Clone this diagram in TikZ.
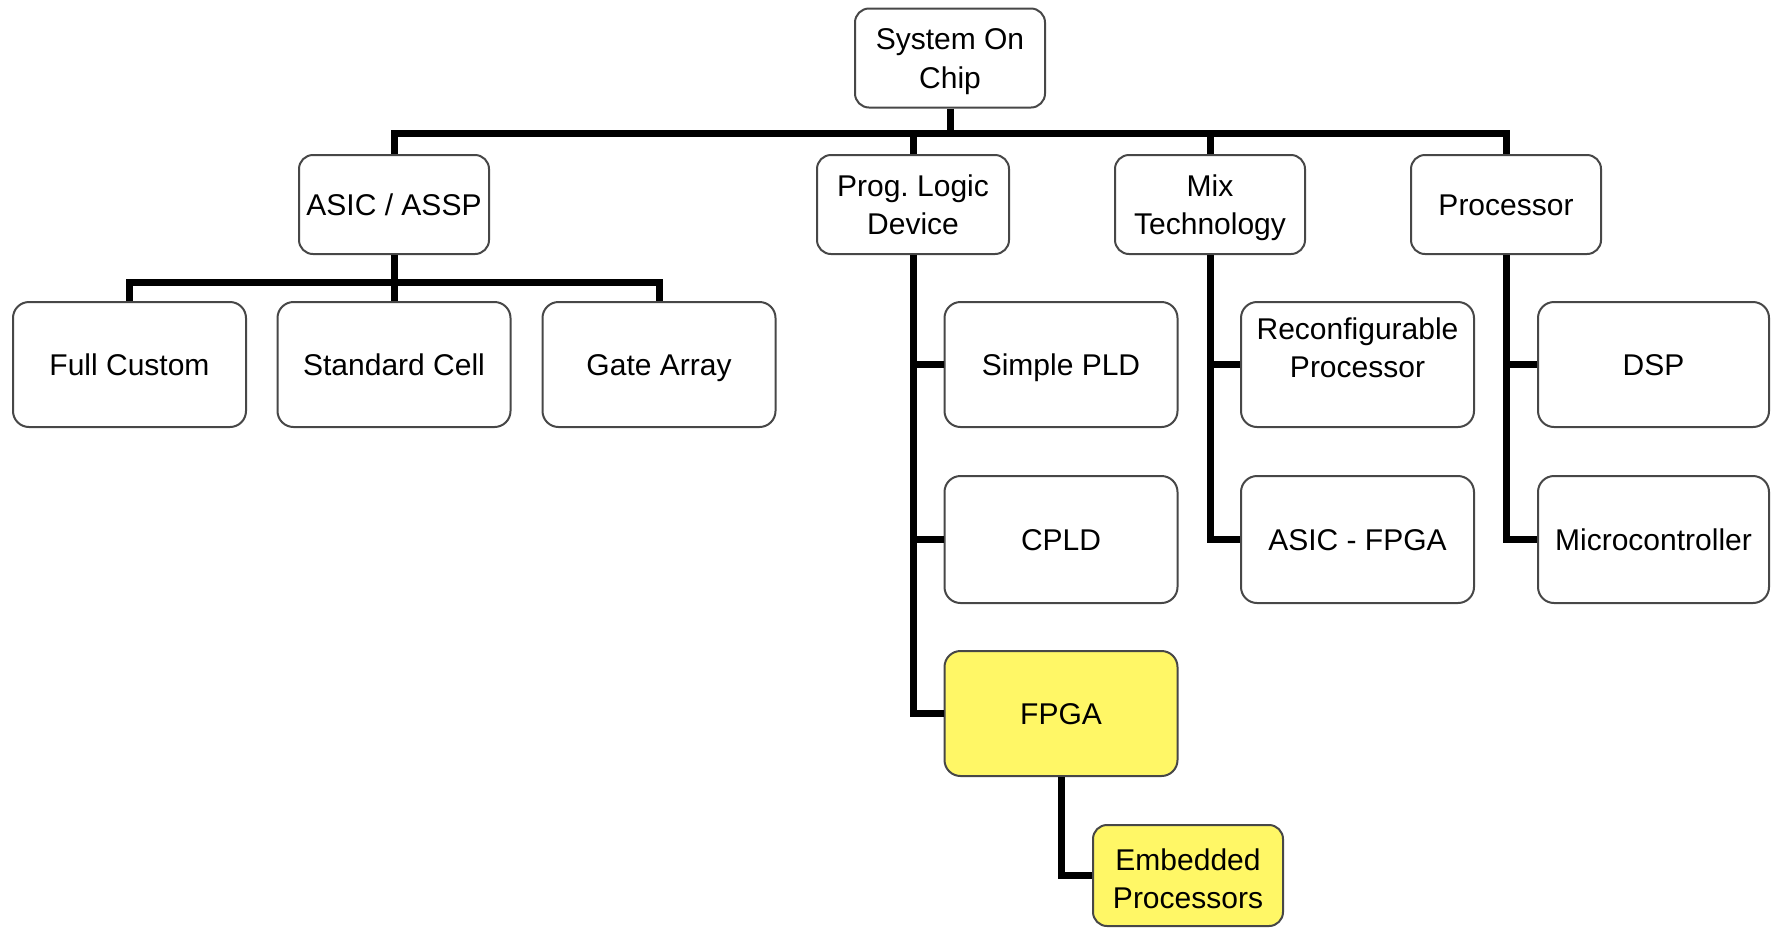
\documentclass[tikz,border=0pt]{standalone}
\usepackage{fontspec}
\setmainfont{Liberation Sans}
\frenchspacing
\begin{document}
\begin{tikzpicture}[x=0.5pt,y=-0.5pt,
  box/.style={draw=black!72, line width=1pt, rounded corners=8pt, fill=white,
    align=center, inner sep=0pt, font=\fontsize{15}{19.25}\selectfont,
    text height=10.75pt, text depth=0pt},
  twoline/.style={text height=30pt, text depth=0pt},
  headbox/.style={box, minimum width=95pt, minimum height=49.5pt, rounded corners=7pt},
  leafbox/.style={box, minimum width=116.5pt, minimum height=62.5pt},
  hilite/.style={fill=yellow!60!white},
  conn/.style={line width=3.5pt, line join=miter, black},
  txt/.style={inner sep=0pt, align=center, font=\fontsize{15}{19.25}\selectfont}]
\useasboundingbox (0,0) rectangle (1771,928);

% root
\node[headbox, twoline] (soc) at (950,58) {System On\\Chip};

% first level
\node[headbox] (asic) at (394,204.5) {ASIC / ASSP};
\node[headbox, twoline, minimum width=96pt] (pld) at (913,204.5) {Prog. Logic\\Device};
\node[headbox, twoline] (mix) at (1210,204.5) {Mix\\Technology};
\node[headbox] (proc) at (1506,204.5) {Processor};

% ASIC / ASSP family
\node[leafbox] (fc) at (129.5,364.5) {Full Custom};
\node[leafbox] (sc) at (394,364.5) {Standard Cell};
\node[leafbox] (ga) at (659,364.5) {Gate Array};

% programmable logic family
\node[leafbox] (spld) at (1061,364.5) {Simple PLD};
\node[leafbox, minimum height=63.5pt] (cpld) at (1061,539.5) {CPLD};
\node[leafbox, hilite] (fpga) at (1061,713.5) {FPGA};
\node[headbox, twoline, text height=33pt, hilite, minimum height=50.5pt] (emb) at (1188,875.5) {Embedded\\Processors};

% mixed technology family (label sits high in its box)
\node[leafbox] (rp) at (1357.5,364.5) {};
\node[txt, text height=30pt, text depth=0pt] (rptext) at (1357.5,347.5) {Reconfigurable\\Processor};
\node[leafbox, minimum height=63.5pt] (afpga) at (1357.5,539.5) {ASIC - FPGA};

% processor family
\node[leafbox, minimum width=115.5pt] (dsp) at (1653.5,364.5) {DSP};
\node[leafbox, minimum width=115.5pt, minimum height=63.5pt] (mc) at (1653.5,539.5) {Microcontroller};

% bus levels
\coordinate (bus1) at (0,133);
\coordinate (bus2) at (0,282);

% root to first level
\draw[conn] (soc.south) -- (soc.south |- bus1);
\draw[conn] (asic.north) -- (asic.north |- bus1) -| (proc.north);
\draw[conn] (pld.north) -- (pld.north |- bus1);
\draw[conn] (mix.north) -- (mix.north |- bus1);

% ASIC / ASSP branches
\draw[conn] (asic.south) -- (asic.south |- bus2);
\draw[conn] (fc.north) -- (fc.north |- bus2) -| (ga.north);
\draw[conn] (sc.north) -- (sc.north |- bus2);

% programmable logic branches
\draw[conn] (pld.south) |- (fpga.west);
\draw[conn] (spld.west) -- (spld.west -| pld.south);
\draw[conn] (cpld.west) -- (cpld.west -| pld.south);
\draw[conn] (fpga.south) |- (emb.west);

% mixed technology branches
\draw[conn] (mix.south) |- (afpga.west);
\draw[conn] (rp.west) -- (rp.west -| mix.south);

% processor branches
\draw[conn] (proc.south) |- (mc.west);
\draw[conn] (dsp.west) -- (dsp.west -| proc.south);
\end{tikzpicture}
\end{document}
